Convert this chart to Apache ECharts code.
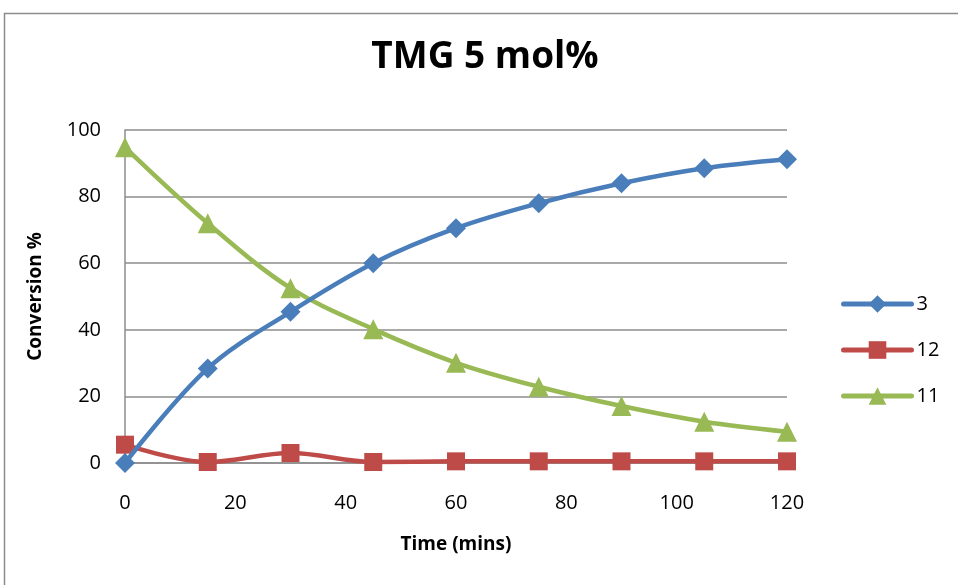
<!DOCTYPE html>
<html>
<head>
<meta charset="utf-8">
<script src="https://cdn.jsdelivr.net/npm/echarts@6/dist/echarts.min.js"></script>
<style>
  html, body { margin: 0; padding: 0; background: #fff; }
  #chart { width: 958px; height: 585px; }
</style>
</head>
<body>
<div id="chart"></div>
<script>
var times = [0, 15, 30, 45, 60, 75, 90, 105, 120];
var series3 = [0, 28.4, 45.4, 60, 70.5, 78, 84, 88.5, 91.2];
var series12 = [5.5, 0.3, 3, 0.3, 0.5, 0.5, 0.5, 0.5, 0.5];
var series11 = [94.8, 72, 52.5, 40.2, 30.1, 22.9, 17.1, 12.4, 9.4];
var seriesNames = ['3', '12', '11'];
var colors = ['#4a7ebb', '#be4b48', '#98b954'];

var font = '"Open Sans", sans-serif';
var chart = echarts.init(document.getElementById('chart'));

function pairs(vals) {
  return times.map(function (t, i) { return [t, vals[i]]; });
}

var shapes = ['diamond', 'rect', 'triangle'];
var sizes = [20, 18, 20];

var option = {
  animation: false,
  textStyle: { fontFamily: font },
  title: {
    text: 'TMG 5 mol%',
    left: 480,
    top: 34,
    textAlign: 'center',
    textStyle: { fontSize: 37, fontWeight: 'bold', color: '#000', fontFamily: font }
  },
  graphic: [{
    type: 'rect',
    shape: { x: 4.5, y: 13.5, width: 1000, height: 700 },
    style: { fill: 'none', stroke: '#8c8c8c', lineWidth: 1.5 }
  }],
  legend: {
    orient: 'vertical',
    left: 836,
    top: 289,
    itemWidth: 68,
    itemHeight: 22,
    itemGap: 26,
    lineStyle: { width: 5, cap: 'round' },
    textStyle: { fontSize: 20, color: '#000', fontFamily: font },
    data: seriesNames
  },
  grid: { left: 125, right: 171, top: 130, bottom: 122 },
  xAxis: {
    type: 'value',
    min: 0, max: 120, interval: 20,
    name: 'Time (mins)',
    nameLocation: 'middle',
    nameGap: 72,
    nameTextStyle: { fontSize: 19, fontWeight: 'bold', color: '#000', fontFamily: font },
    axisLine: { show: true, lineStyle: { color: '#8c8c8c', width: 1.5 } },
    axisTick: { show: false },
    axisLabel: { fontSize: 20, color: '#000', margin: 30, fontFamily: font },
    splitLine: { show: false }
  },
  yAxis: {
    type: 'value',
    min: 0, max: 100, interval: 20,
    name: 'Conversion %',
    nameLocation: 'middle',
    nameGap: 80,
    nameTextStyle: { fontSize: 19, fontWeight: 'bold', color: '#000', fontFamily: font },
    axisLine: { show: true, lineStyle: { color: '#8c8c8c', width: 1.5 } },
    axisTick: { show: false },
    axisLabel: { fontSize: 20, color: '#000', margin: 24, fontFamily: font },
    splitLine: { show: true, lineStyle: { color: '#8c8c8c', width: 1.5 } }
  },
  series: [series3, series12, series11].map(function (vals, i) {
    return {
      name: seriesNames[i],
      type: 'line',
      smooth: 0.35,
      data: pairs(vals),
      symbol: shapes[i],
      symbolSize: sizes[i],
      showAllSymbol: true,
      lineStyle: { color: colors[i], width: 4.5 },
      itemStyle: { color: colors[i] },
      z: 3 - i
    };
  })
};

chart.setOption(option);
</script>
</body>
</html>
